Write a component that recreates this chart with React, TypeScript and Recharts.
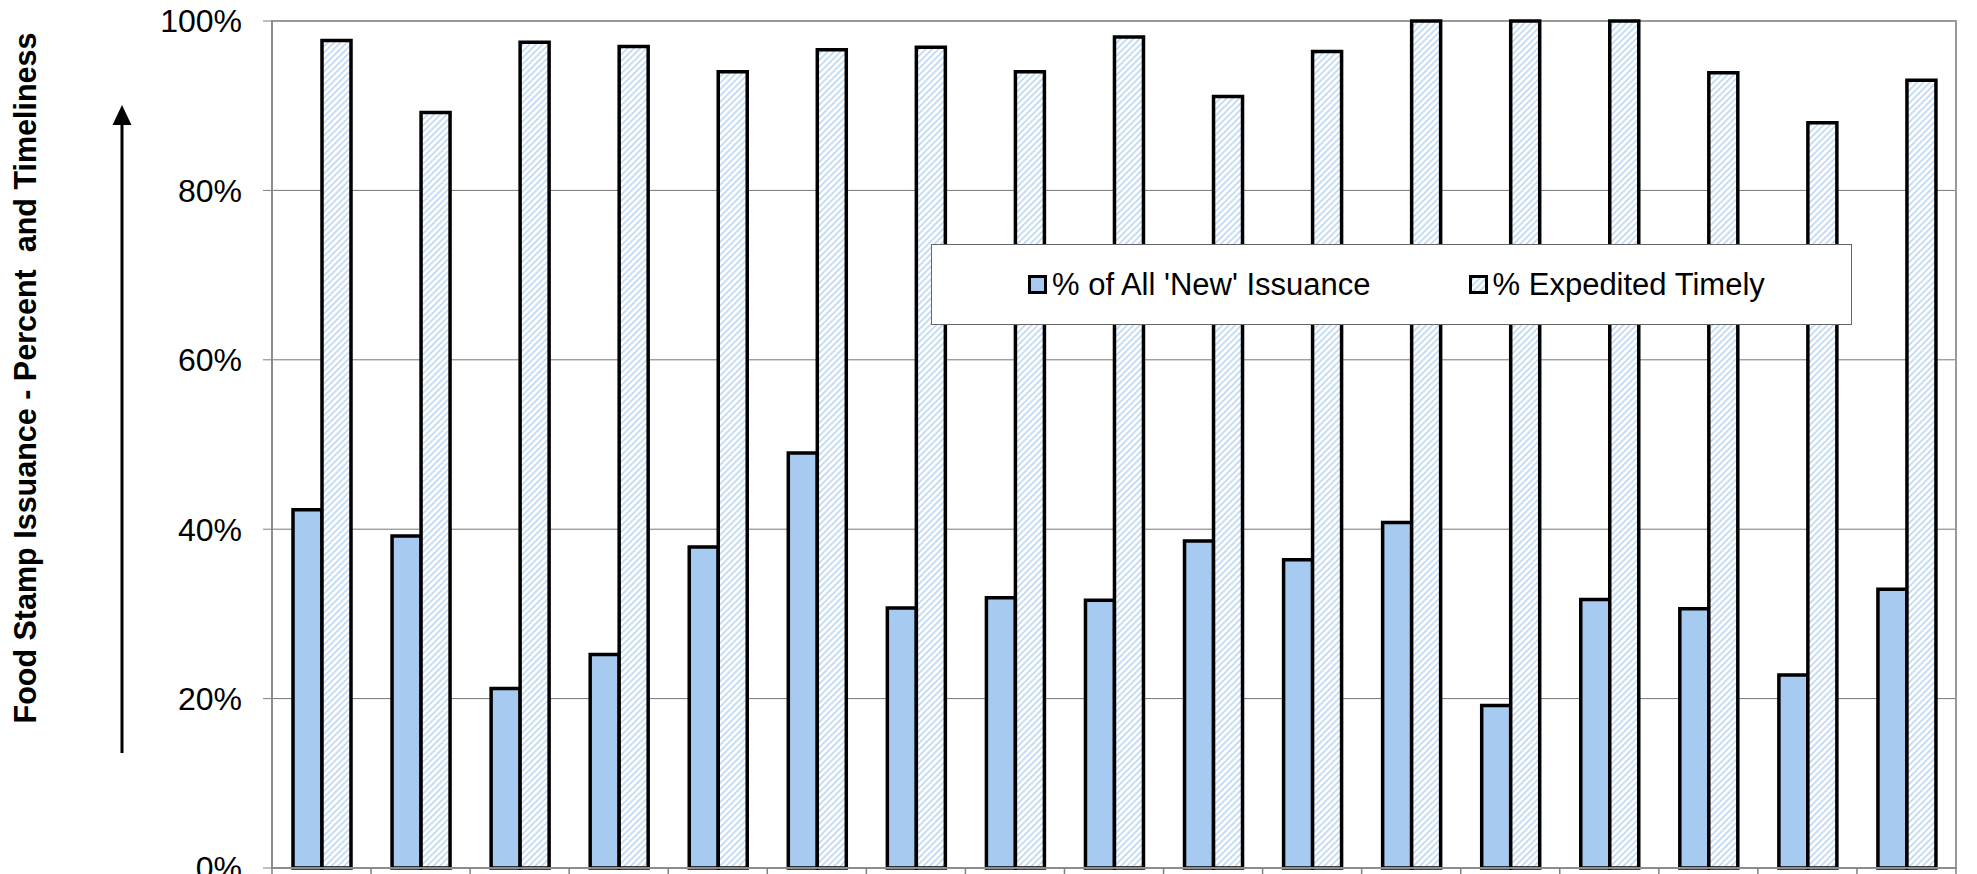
import React from 'react'
import {
  BarChart,
  Bar,
  XAxis,
  YAxis,
  CartesianGrid,
  Legend,
  ReferenceArea,
} from 'recharts'

// 17 offices, left to right (labels are cut off in the source picture)
const offices = [
  'Office 1', 'Office 2', 'Office 3', 'Office 4', 'Office 5', 'Office 6',
  'Office 7', 'Office 8', 'Office 9', 'Office 10', 'Office 11', 'Office 12',
  'Office 13', 'Office 14', 'Office 15', 'Office 16', 'Office 17',
]

const newIssuance = [
  42.3, 39.2, 21.2, 25.2, 37.9, 49.0, 30.7, 31.9, 31.6,
  38.6, 36.4, 40.8, 19.2, 31.7, 30.6, 22.8, 32.9,
]

const expeditedTimely = [
  97.7, 89.2, 97.5, 97.0, 94.0, 96.6, 96.9, 94.0, 98.1,
  91.1, 96.4, 100, 100, 100, 93.9, 88.0, 93.0,
]

const yTicks = [0, 20, 40, 60, 80, 100]

const SERIES_NEW = "% of All 'New' Issuance"
const SERIES_EXP = '% Expedited Timely'

const data = offices.map((name, i) => ({
  name,
  newIssuance: newIssuance[i],
  expedited: expeditedTimely[i],
}))

const FONT = "'Liberation Sans', Arial, sans-serif"
const BLUE = '#a6caf0'

function BoundaryTick(props: any) {
  const { x, y, payload, index, visibleTicksCount } = props
  const half = payload && payload.offset ? payload.offset : 49.5
  const xl = x - half
  return (
    <g>
      <line x1={xl} x2={xl} y1={y} y2={y + 9} stroke="#808080" strokeWidth={1.5} />
      {index === visibleTicksCount - 1 && (
        <line x1={x + half} x2={x + half} y1={y} y2={y + 9} stroke="#808080" strokeWidth={1.5} />
      )}
    </g>
  )
}

function LegendBox() {
  const icon = (fill: string) => (
    <svg width={19} height={19} style={{ display: 'block', marginRight: 5 }}>
      <rect x={1.5} y={1.5} width={16} height={16} fill={fill} stroke="#000" strokeWidth={3} />
    </svg>
  )
  return (
    <div
      style={{
        width: 921,
        height: 81,
        boxSizing: 'border-box',
        border: '1px solid #666',
        background: '#fff',
        display: 'flex',
        alignItems: 'center',
        paddingLeft: 96,
        fontFamily: FONT,
        fontSize: 31,
        color: '#000',
      }}
    >
      <div style={{ display: 'flex', alignItems: 'center' }}>
        {icon(BLUE)}
        <span>{SERIES_NEW}</span>
      </div>
      <div style={{ display: 'flex', alignItems: 'center', marginLeft: 98 }}>
        {icon('url(#hatch)')}
        <span>{SERIES_EXP}</span>
      </div>
    </div>
  )
}

function YTitle() {
  return (
    <g>
      <text
        x={36}
        y={378}
        transform="rotate(-90 36 378)"
        textAnchor="middle"
        fontFamily={FONT}
        fontSize={30.5}
        fontWeight="bold"
        fill="#000"
        style={{ whiteSpace: 'pre' }}
      >
        {'Food Stamp Issuance - Percent  and Timeliness'}
      </text>
      <line x1={122} y1={753} x2={122} y2={120} stroke="#000" strokeWidth={3} />
      <polygon points="122,105 112.5,125 131.5,125" fill="#000" />
    </g>
  )
}

export default function App() {
  return (
    <div style={{ position: 'absolute', left: 0, top: 0, width: 1977, height: 874, background: '#fff' }}>
      <BarChart
        width={1977}
        height={874}
        data={data}
        margin={{ top: 21, right: 21, bottom: 0, left: 0 }}
        barCategoryGap="21.2%"
        barGap={0}
      >
        <defs>
          <pattern id="hatch" patternUnits="userSpaceOnUse" width={4.5} height={4.5} patternTransform="rotate(45)">
            <rect width={4.5} height={4.5} fill="#fff" />
            <rect width={1.6} height={4.5} fill="#bcd6f3" />
          </pattern>
        </defs>
        <CartesianGrid vertical={false} stroke="#777" strokeWidth={1} />
        <XAxis
          dataKey="name"
          height={6}
          interval={0}
          tickSize={0}
          tickMargin={0}
          tickLine={false}
          axisLine={{ stroke: '#8c8c8c', strokeWidth: 2 }}
          tick={<BoundaryTick />}
        />
        <YAxis
          width={272}
          domain={[0, 100]}
          ticks={yTicks}
          interval={0}
          tickFormatter={(v: number) => `${v}%`}
          tickSize={9}
          tickMargin={21}
          tickLine={{ stroke: '#808080' }}
          axisLine={{ stroke: '#8c8c8c', strokeWidth: 2 }}
          tick={{ fontFamily: FONT, fontSize: 32, fill: '#000' }}
          label={{ content: () => <YTitle /> }}
        />
        <ReferenceArea y1={0} y2={100} fill="none" stroke="#999" strokeWidth={2} />
        <Bar
          dataKey="newIssuance"
          name={SERIES_NEW}
          fill={BLUE}
          stroke="#000"
          strokeWidth={3.5}
          isAnimationActive={false}
        />
        <Bar
          dataKey="expedited"
          name={SERIES_EXP}
          fill="url(#hatch)"
          stroke="#000"
          strokeWidth={3.5}
          isAnimationActive={false}
        />
        <Legend
          layout="horizontal"
          verticalAlign="middle"
          align="center"
          wrapperStyle={{ left: 931, top: 244, width: 921, height: 81 }}
          content={() => <LegendBox />}
        />
      </BarChart>
    </div>
  )
}
